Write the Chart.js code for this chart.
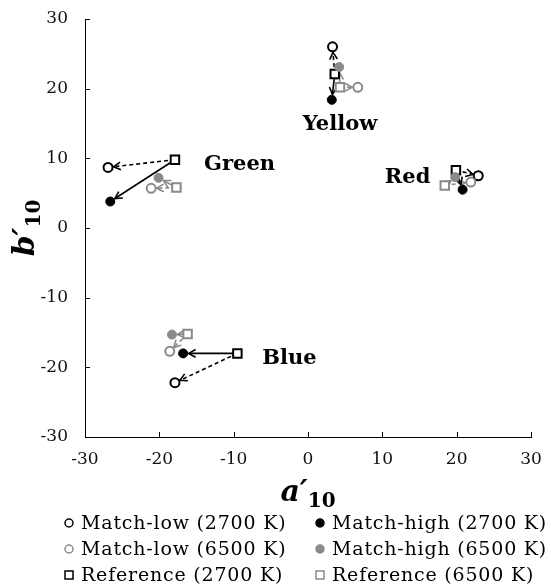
<!DOCTYPE html>
<html><head><meta charset="utf-8">
<script src="https://cdn.jsdelivr.net/npm/chart.js@4.4.1/dist/chart.umd.min.js"></script>
<style>html,body{margin:0;padding:0;background:#fff}#wrap{position:relative;width:551px;height:587px}</style>
</head><body><div id="wrap"><canvas id="c" width="551" height="587"></canvas></div>
<script>
// Categories (colour centres)
const categories = ['Yellow', 'Red', 'Green', 'Blue'];
// Axis ticks
const tickValues = [-30, -20, -10, 0, 10, 20, 30];
// Reference (2700 K)
const ref2700A = [3.6, 19.9, -17.9, -9.5];
const ref2700B = [22.1, 8.3, 9.8, -18.0];
// Match-low (2700 K)
const low2700A = [3.3, 22.9, -26.9, -17.9];
const low2700B = [26.0, 7.5, 8.7, -22.2];
// Match-high (2700 K)
const high2700A = [3.2, 20.8, -26.6, -16.8];
const high2700B = [18.4, 5.5, 3.8, -18.0];
// Reference (6500 K)
const ref6500A = [4.3, 18.4, -17.7, -16.2];
const ref6500B = [20.2, 6.1, 5.8, -15.2];
// Match-low (6500 K)
const low6500A = [6.7, 21.9, -21.1, -18.6];
const low6500B = [20.2, 6.6, 5.7, -17.7];
// Match-high (6500 K)
const high6500A = [4.2, 19.8, -20.1, -18.3];
const high6500B = [23.1, 7.3, 7.2, -15.3];
// Where each category name is written (data units)
const labelA = [4.3, 13.4, -9.2, -2.5];
const labelB = [14.8, 7.2, 9.1, -18.8];

const BLACK = '#000000', GRAY = '#8a8a8a';
const pts = (a, b) => a.map((v, i) => ({x: v, y: b[i]}));

const datasets = [
  {label: 'Reference (6500 K)', data: pts(ref6500A, ref6500B), pointStyle: 'rect', pointRadius: 6, borderColor: GRAY, backgroundColor: '#fff', borderWidth: 2},
  {label: 'Match-low (6500 K)', data: pts(low6500A, low6500B), pointStyle: 'circle', pointRadius: 4.5, borderColor: GRAY, backgroundColor: '#fff', borderWidth: 2},
  {label: 'Match-high (6500 K)', data: pts(high6500A, high6500B), pointStyle: 'circle', pointRadius: 4.5, borderColor: GRAY, backgroundColor: GRAY, borderWidth: 1},
  {label: 'Reference (2700 K)', data: pts(ref2700A, ref2700B), pointStyle: 'rect', pointRadius: 6, borderColor: BLACK, backgroundColor: '#fff', borderWidth: 2},
  {label: 'Match-low (2700 K)', data: pts(low2700A, low2700B), pointStyle: 'circle', pointRadius: 4.5, borderColor: BLACK, backgroundColor: '#fff', borderWidth: 2},
  {label: 'Match-high (2700 K)', data: pts(high2700A, high2700B), pointStyle: 'circle', pointRadius: 4.5, borderColor: BLACK, backgroundColor: BLACK, borderWidth: 1}
];

function arrow(ctx, x1, y1, x2, y2, gap, dash, color) {
  const ang = Math.atan2(y2 - y1, x2 - x1);
  const tx = x2 - Math.cos(ang) * gap, ty = y2 - Math.sin(ang) * gap;
  ctx.save();
  ctx.strokeStyle = color; ctx.lineWidth = 1.6; ctx.setLineDash(dash);
  ctx.beginPath(); ctx.moveTo(x1, y1); ctx.lineTo(tx, ty); ctx.stroke();
  ctx.setLineDash([]);
  const L = 8, w = 0.5;
  ctx.beginPath();
  ctx.moveTo(tx - L * Math.cos(ang - w), ty - L * Math.sin(ang - w));
  ctx.lineTo(tx, ty);
  ctx.lineTo(tx - L * Math.cos(ang + w), ty - L * Math.sin(ang + w));
  ctx.stroke();
  ctx.restore();
}

const SERIF = '"DejaVu Serif", serif';

const extras = {
  id: 'extras',
  beforeDatasetsDraw(chart) {
    const {ctx, scales: {x, y}} = chart;
    const groups = [
      [ref6500A, ref6500B, low6500A, low6500B, [4, 3], GRAY],
      [ref6500A, ref6500B, high6500A, high6500B, [], GRAY],
      [ref2700A, ref2700B, low2700A, low2700B, [4, 3], BLACK],
      [ref2700A, ref2700B, high2700A, high2700B, [], BLACK]
    ];
    groups.forEach(([fa, fb, ta, tb, dash, col]) => {
      fa.forEach((v, i) => {
        arrow(ctx, x.getPixelForValue(v), y.getPixelForValue(fb[i]),
          x.getPixelForValue(ta[i]), y.getPixelForValue(tb[i]), 5.5, dash, col);
      });
    });
  },
  afterDraw(chart) {
    const {ctx, chartArea: ca, scales: {x, y}} = chart;
    ctx.save();
    // inward tick marks
    ctx.strokeStyle = '#000'; ctx.lineWidth = 1;
    tickValues.forEach(v => {
      const px = Math.round(x.getPixelForValue(v)) + 0.5;
      ctx.beginPath(); ctx.moveTo(px, ca.bottom); ctx.lineTo(px, ca.bottom - 5); ctx.stroke();
      const py = Math.round(y.getPixelForValue(v)) + 0.5;
      ctx.beginPath(); ctx.moveTo(ca.left, py); ctx.lineTo(ca.left + 5, py); ctx.stroke();
    });
    // category names
    ctx.fillStyle = '#000';
    ctx.font = 'bold 21px ' + SERIF;
    ctx.textAlign = 'center'; ctx.textBaseline = 'middle';
    categories.forEach((c, i) => {
      ctx.fillText(c, x.getPixelForValue(labelA[i]), y.getPixelForValue(labelB[i]));
    });
    // x axis title a'10
    const cx = (ca.left + ca.right) / 2;
    ctx.textAlign = 'left'; ctx.textBaseline = 'alphabetic';
    ctx.font = 'italic bold 30px ' + SERIF;
    const aW = ctx.measureText('a\u2032').width;
    ctx.font = 'bold 20px ' + SERIF;
    const sW = ctx.measureText('10').width;
    let sx = cx - (aW + sW) / 2;
    ctx.font = 'italic bold 30px ' + SERIF;
    ctx.fillText('a\u2032', sx, 501);
    ctx.font = 'bold 20px ' + SERIF;
    ctx.fillText('10', sx + aW, 507);
    // y axis title b'10 rotated
    ctx.save();
    ctx.translate(34, (ca.top + ca.bottom) / 2);
    ctx.rotate(-Math.PI / 2);
    ctx.font = 'italic bold 30px ' + SERIF;
    const bW = ctx.measureText('b\u2032').width;
    sx = -(bW + sW) / 2;
    ctx.fillText('b\u2032', sx, 0);
    ctx.font = 'bold 20px ' + SERIF;
    ctx.fillText('10', sx + bW, 6);
    ctx.restore();
    // legend
    const items = [
      ['Match-low (2700 K)', 'circle', BLACK, '#fff', 69, 523],
      ['Match-high (2700 K)', 'circle', BLACK, BLACK, 320, 523],
      ['Match-low (6500 K)', 'circle', GRAY, '#fff', 69, 549],
      ['Match-high (6500 K)', 'circle', GRAY, GRAY, 320, 549],
      ['Reference (2700 K)', 'rect', BLACK, '#fff', 69, 575],
      ['Reference (6500 K)', 'rect', GRAY, '#fff', 320, 575]
    ];
    ctx.font = '19px ' + SERIF;
    ctx.letterSpacing = '0.8px';
    ctx.textBaseline = 'middle';
    items.forEach(([t, st, bc, fc, lx, ly]) => {
      ctx.strokeStyle = bc; ctx.fillStyle = fc; ctx.lineWidth = 1.5;
      ctx.beginPath();
      if (st === 'circle') ctx.arc(lx, ly, 4, 0, Math.PI * 2);
      else ctx.rect(lx - 4, ly - 4, 8, 8);
      ctx.fill(); ctx.stroke();
      ctx.fillStyle = '#000';
      ctx.fillText(t, lx + 12, ly + 1);
    });
    ctx.restore();
  }
};

new Chart(document.getElementById('c'), {
  type: 'scatter',
  data: {datasets},
  options: {
    responsive: false,
    animation: false,
    events: [],
    layout: {padding: {top: 19, right: 20, left: 0, bottom: 0}},
    plugins: {legend: {display: false}, tooltip: {enabled: false}},
    scales: {
      x: {
        type: 'linear', min: -30, max: 30,
        afterBuildTicks: s => { s.ticks = tickValues.map(v => ({value: v})); },
        afterFit: s => { s.height = 150; s.paddingLeft = 0; s.paddingRight = 0; },
        grid: {display: false, drawTicks: false},
        border: {display: true, color: '#000', width: 1},
        ticks: {padding: 12, color: '#111', font: {family: SERIF, size: 17}}
      },
      y: {
        type: 'linear', min: -30, max: 30,
        afterBuildTicks: s => { s.ticks = tickValues.map(v => ({value: v})); },
        afterFit: s => { s.width = 85; s.paddingTop = 0; s.paddingBottom = 0; },
        grid: {display: false, drawTicks: false},
        border: {display: true, color: '#000', width: 1},
        ticks: {padding: 17, color: '#111', font: {family: SERIF, size: 17}}
      }
    }
  },
  plugins: [extras]
});
</script>
</body></html>
